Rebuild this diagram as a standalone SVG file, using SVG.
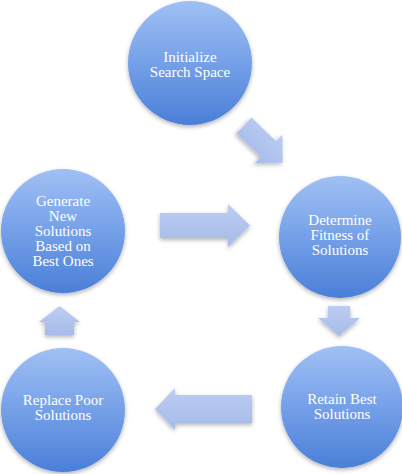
<svg xmlns="http://www.w3.org/2000/svg" width="402" height="474" viewBox="0 0 402 474">
<defs>
<linearGradient id="gc" x1="0" y1="0" x2="0" y2="1">
<stop offset="0" stop-color="#a0c0f4"/>
<stop offset="0.5" stop-color="#75a0e8"/>
<stop offset="1" stop-color="#4a7fd8"/>
</linearGradient>
<linearGradient id="ga" x1="0" y1="0" x2="0" y2="1">
<stop offset="0" stop-color="#bccdf2"/>
<stop offset="1" stop-color="#a6bbe9"/>
</linearGradient>
<filter id="sh" x="-20%" y="-20%" width="140%" height="150%">
<feDropShadow dx="0" dy="2" stdDeviation="2" flood-color="#000" flood-opacity="0.3"/>
</filter>
</defs>
<style>
.c{fill:url(#gc);filter:url(#sh)}
.a{fill:url(#ga);filter:url(#sh)}
.t{font-family:"Liberation Serif","Times New Roman",serif;font-size:15px;fill:#fff;text-anchor:middle}
</style>
<g id="connectors">
<path class="a" transform="translate(244,125.5) rotate(44)" d="M0,-11 L34,-11 L34,-20 L54,0 L34,20 L34,11 L0,11 Z"/>
<path class="a" d="M160,213 L228,213 L228,204 L250,225.5 L228,247 L228,238 L160,238 Z"/>
<path class="a" d="M328,306 L350,306 L350,318 L360,318 L339,336 L318,318 L328,318 Z"/>
<path class="a" d="M252,395 L252,423 L175,423 L175,430 L155,409 L175,388 L175,395 Z"/>
<path class="a" d="M45,335 L74,335 L74,322 L80,322 L59.5,306 L39,322 L45,322 Z"/>
</g>
<g id="n1">
<circle class="c" cx="190" cy="63" r="62"/>
<text class="t" x="190" y="62">Initialize</text>
<text class="t" x="190" y="77">Search Space</text>
</g>
<g id="n2">
<circle class="c" cx="340" cy="237" r="61"/>
<text class="t" x="340" y="225">Determine</text>
<text class="t" x="340" y="240">Fitness of</text>
<text class="t" x="340" y="255">Solutions</text>
</g>
<g id="n3">
<circle class="c" cx="342" cy="407" r="61"/>
<text class="t" x="342" y="404">Retain Best</text>
<text class="t" x="342" y="419">Solutions</text>
</g>
<g id="n4">
<circle class="c" cx="63" cy="410" r="62"/>
<text class="t" x="63" y="405">Replace Poor</text>
<text class="t" x="63" y="420">Solutions</text>
</g>
<g id="n5">
<circle class="c" cx="63" cy="231" r="62"/>
<text class="t" x="63" y="206">Generate</text>
<text class="t" x="63" y="221">New</text>
<text class="t" x="63" y="236">Solutions</text>
<text class="t" x="63" y="251">Based on</text>
<text class="t" x="63" y="266">Best Ones</text>
</g>
</svg>
